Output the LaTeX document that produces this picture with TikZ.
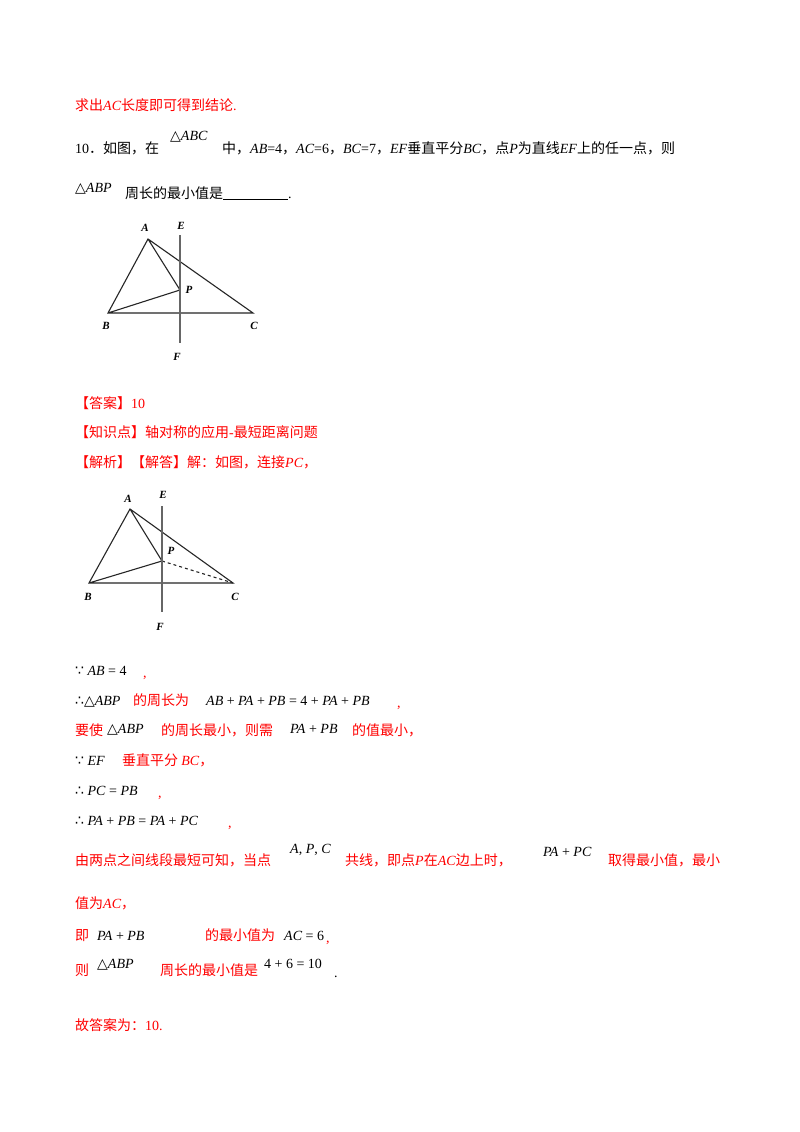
\documentclass[tikz,border=0pt]{standalone}
\usepackage{fontspec}
\setmainfont{Liberation Serif}
\newfontfamily\cn{Noto Sans CJK SC}
\newfontfamily\sym{DejaVu Sans}
\definecolor{myred}{RGB}{255,0,0}
\newcommand{\mi}[1]{\textit{#1}}
\newcommand{\tri}{{\sym △}}
\begin{document}
\begin{tikzpicture}[x=1pt,y=-1pt,
  txt/.style={anchor=base west,inner sep=0pt,font=\fontsize{14}{16}\selectfont},
  rt/.style={txt,text=myred},
  bt/.style={txt,text=black},
  lab/.style={inner sep=0pt,font=\fontsize{11}{12}\selectfont\bfseries\itshape},
  seg/.style={line width=1.1pt,black!85}]
\useasboundingbox[fill=white] (0,0) rectangle (800,1132);

\node[rt] (t1) at (75,110) {{\cn 求出}\mi{AC}{\cn 长度即可得到结论}.};
\node[bt] (t2) at (75,153) {10{\cn ．如图，在}};
\node[bt] (t3) at (170,140) {\tri\mi{ABC}};
\node[bt] (t4) at (222,153) {{\cn 中，}\mi{AB}=4{\cn ，}\mi{AC}=6{\cn ，}\mi{BC}=7{\cn ，}\mi{EF}{\cn 垂直平分}\mi{BC}{\cn ，点}\mi{P}{\cn 为直线}\mi{EF}{\cn 上的任一点，则}};
\node[bt] (t5) at (75,192) {\tri\mi{ABP}};
\node[bt] (t6) at (125,198) {{\cn 周长的最小值是}\rule[-2pt]{65pt}{0.6pt}.};

% figure 1
\coordinate (A1) at (148,239); \coordinate (B1) at (108,313); \coordinate (C1) at (253,313);
\coordinate (P1) at (180,290); \coordinate (E1) at (180,235); \coordinate (F1) at (180,343);
\draw[seg] (A1)--(B1)--(C1)--cycle (A1)--(P1)--(B1);
\draw[seg,black!60,line width=1.4pt] (E1)--(F1);
\node[lab] (la1) at (145,228) {A}; \node[lab] (le1) at (181,226) {E};
\node[lab] (lp1) at (189,290) {P}; \node[lab] (lb1) at (106,326) {B};
\node[lab] (lc1) at (254,326) {C}; \node[lab] (lf1) at (177,357) {F};

\node[rt] (t7) at (75,408) {{\cn 【答案】}10};
\node[rt] (t8) at (75,437) {{\cn 【知识点】轴对称的应用}-{\cn 最短距离问题}};
\node[rt] (t9) at (75,467) {{\cn 【解析】【解答】解：如图，连接}\mi{PC}{\cn ，}};

% figure 2
\coordinate (A2) at (130,509); \coordinate (B2) at (89,583); \coordinate (C2) at (233,583);
\coordinate (P2) at (162,561); \coordinate (E2) at (162,506); \coordinate (F2) at (162,612);
\draw[seg] (A2)--(B2)--(C2)--cycle (A2)--(P2)--(B2);
\draw[seg,dashed] (P2)--(C2);
\draw[seg,black!60,line width=1.4pt] (E2)--(F2);
\node[lab] (la2) at (128,499) {A}; \node[lab] (le2) at (163,495) {E};
\node[lab] (lp2) at (171,551) {P}; \node[lab] (lb2) at (88,597) {B};
\node[lab] (lc2) at (235,597) {C}; \node[lab] (lf2) at (160,627) {F};

\node[bt] (s1) at (75,675) {{\sym ∵} \mi{AB} = 4};
\node[rt] (s1c) at (143,677) {,};
\node[bt] (s2) at (75,705) {{\sym ∴}\tri\mi{ABP}};
\node[rt] (s2a) at (133,705) {{\cn 的周长为}};
\node[bt] (s2b) at (206,705) {\mi{AB} + \mi{PA} + \mi{PB} = 4 + \mi{PA} + \mi{PB}};
\node[rt] (s2c) at (397,707) {,};
\node[rt] (s3) at (75,735) {{\cn 要使}};
\node[bt] (s3a) at (107,733) {\tri\mi{ABP}};
\node[rt] (s3b) at (161,735) {{\cn 的周长最小，则需}};
\node[bt] (s3c) at (290,733) {\mi{PA} + \mi{PB}};
\node[rt] (s3d) at (352,735) {{\cn 的值最小，}};
\node[bt] (s4) at (75,765) {{\sym ∵} \mi{EF}};
\node[rt] (s4a) at (122,765) {{\cn 垂直平分 }\mi{BC}{\cn ，}};
\node[bt] (s5) at (75,795) {{\sym ∴} \mi{PC} = \mi{PB}};
\node[rt] (s5a) at (158,797) {,};
\node[bt] (s6) at (75,825) {{\sym ∴} \mi{PA} + \mi{PB} = \mi{PA} + \mi{PC}};
\node[rt] (s6a) at (228,827) {,};
\node[rt] (s7) at (75,865) {{\cn 由两点之间线段最短可知，当点}};
\node[bt] (s7a) at (290,853) {\mi{A}, \mi{P}, \mi{C}};
\node[rt] (s7b) at (345,865) {{\cn 共线，即点}\mi{P}{\cn 在}\mi{AC}{\cn 边上时，}};
\node[bt] (s7c) at (543,856) {\mi{PA} + \mi{PC}};
\node[rt] (s7d) at (608,865) {{\cn 取得最小值，最小}};
\node[rt] (s8) at (75,908) {{\cn 值为}\mi{AC}{\cn ，}};
\node[rt] (s9) at (75,940) {{\cn 即}};
\node[bt] (s9a) at (97,940) {\mi{PA} + \mi{PB}};
\node[rt] (s9b) at (205,940) {{\cn 的最小值为}};
\node[bt] (s9c) at (284,940) {\mi{AC} = 6};
\node[rt] (s9d) at (326,942) {,};
\node[rt] (s10) at (75,975) {{\cn 则}};
\node[bt] (s10a) at (97,968) {\tri\mi{ABP}};
\node[rt] (s10b) at (160,975) {{\cn 周长的最小值是}};
\node[bt] (s10c) at (264,968) {4 + 6 = 10};
\node[bt] (s10d) at (334,977) {.};
\node[rt] (s11) at (75,1030) {{\cn 故答案为：}10.};
\end{tikzpicture}
\end{document}
